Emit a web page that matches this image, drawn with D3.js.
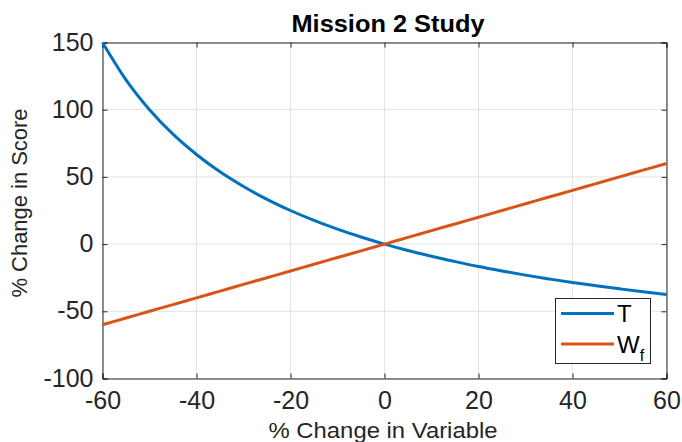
<!DOCTYPE html>
<html><head><meta charset="utf-8">
<script src="https://cdn.jsdelivr.net/npm/d3@7"></script>
<style>body{margin:0;background:#fff}svg{display:block}</style>
</head><body><svg id="c" width="682" height="442"></svg>
<script>
const xValues = [-60,-55,-50,-45,-40,-35,-30,-25,-20,-15,-10,-5,0,5,10,15,20,25,30,35,40,45,50,55,60];
const tValues = [150,122.2,100,81.8,66.7,53.8,42.9,33.3,25,17.6,11.1,5.3,0,-4.8,-9.1,-13,-16.7,-20,-23.1,-25.9,-28.6,-31,-33.3,-35.5,-37.5];
const wfValues = [-60,-55,-50,-45,-40,-35,-30,-25,-20,-15,-10,-5,0,5,10,15,20,25,30,35,40,45,50,55,60];
const xTicks = [-60,-40,-20,0,20,40,60];
const yTicks = [-100,-50,0,50,100,150];
const seriesNames = ["T","W"];
const colors = ["#0072BD","#D95319"];

const svg = d3.select("#c");
const L=102.5,R=666.5,T=42.5,B=378.5;
const x = d3.scaleLinear().domain([-60,60]).range([L,R]);
const y = d3.scaleLinear().domain([-100,150]).range([B,T]);
const font = "'Liberation Sans', Arial, Helvetica, sans-serif";
const fmt = d => String(d);

// grid
const g = svg.append("g");
g.selectAll(".gx").data(xTicks).enter().append("line")
 .attr("x1",d=>x(d)).attr("x2",d=>x(d)).attr("y1",T).attr("y2",B)
 .attr("stroke","#e3e3e3").attr("stroke-width",1);
g.selectAll(".gy").data(yTicks).enter().append("line")
 .attr("x1",L).attr("x2",R).attr("y1",d=>y(d)).attr("y2",d=>y(d))
 .attr("stroke","#e3e3e3").attr("stroke-width",1);

// axes
const axC = "#262626";
const axBottom = svg.append("g").attr("transform",`translate(0,${B})`)
 .call(d3.axisBottom(x).tickValues(xTicks).tickSize(-5).tickPadding(13).tickFormat(fmt));
const axLeft = svg.append("g").attr("transform",`translate(${L},0)`)
 .call(d3.axisLeft(y).tickValues(yTicks).tickSize(-5).tickPadding(9).tickFormat(fmt));
const axTop = svg.append("g").attr("transform",`translate(0,${T})`)
 .call(d3.axisTop(x).tickValues(xTicks).tickSize(-5).tickFormat(""));
const axRight = svg.append("g").attr("transform",`translate(${R},0)`)
 .call(d3.axisRight(y).tickValues(yTicks).tickSize(-5).tickFormat(""));
[axBottom,axLeft,axTop,axRight].forEach(a=>{
  a.selectAll("path").attr("stroke",axC).attr("stroke-width",1);
  a.selectAll("line").attr("stroke",axC);
  a.selectAll("text").attr("fill",axC).style("font-family",font).style("font-size","25px");
});
axBottom.selectAll("text").attr("dy","0.71em");
axLeft.selectAll("text").attr("dy","0.3em");

// lines
const line = d3.line().x((d,i)=>x(xValues[i])).y(d=>y(d)).curve(d3.curveMonotoneX);
[tValues,wfValues].forEach((s,k)=>{
  svg.append("path").datum(s).attr("d",line)
   .attr("fill","none").attr("stroke",colors[k]).attr("stroke-width",3);
});

// title & labels
svg.append("text").attr("x",388).attr("y",32).attr("text-anchor","middle")
 .style("font-family",font).style("font-weight","bold").style("font-size","23px")
 .attr("textLength",193).attr("lengthAdjust","spacingAndGlyphs")
 .attr("fill","#000").text("Mission 2 Study");
svg.append("text").attr("x",383).attr("y",438).attr("text-anchor","middle")
 .style("font-family",font).style("font-size","22px").attr("fill",axC)
 .attr("textLength",229).attr("lengthAdjust","spacingAndGlyphs").text("% Change in Variable");
svg.append("text").attr("transform",`translate(27,203) rotate(-90)`).attr("text-anchor","middle")
 .style("font-family",font).style("font-size","22px").attr("fill",axC)
 .attr("textLength",189).attr("lengthAdjust","spacingAndGlyphs").text("% Change in Score");

// legend
const lg = svg.append("g");
lg.append("rect").attr("x",555.5).attr("y",298.5).attr("width",95).attr("height",65)
 .attr("fill","#fff").attr("stroke",axC).attr("stroke-width",1);
seriesNames.forEach((n,i)=>{
  const yy = 313.5 + i*30.5;
  lg.append("line").attr("x1",561).attr("x2",614).attr("y1",yy).attr("y2",yy)
   .attr("stroke",colors[i]).attr("stroke-width",3);
  const t = lg.append("text").attr("x",617).attr("y",yy+8.5).style("font-family",font)
   .style("font-size","24px").attr("fill","#000").text(n);
  if(n==="W") t.append("tspan").attr("dy",8).style("font-size","16px").text("f");
});
</script></body></html>
